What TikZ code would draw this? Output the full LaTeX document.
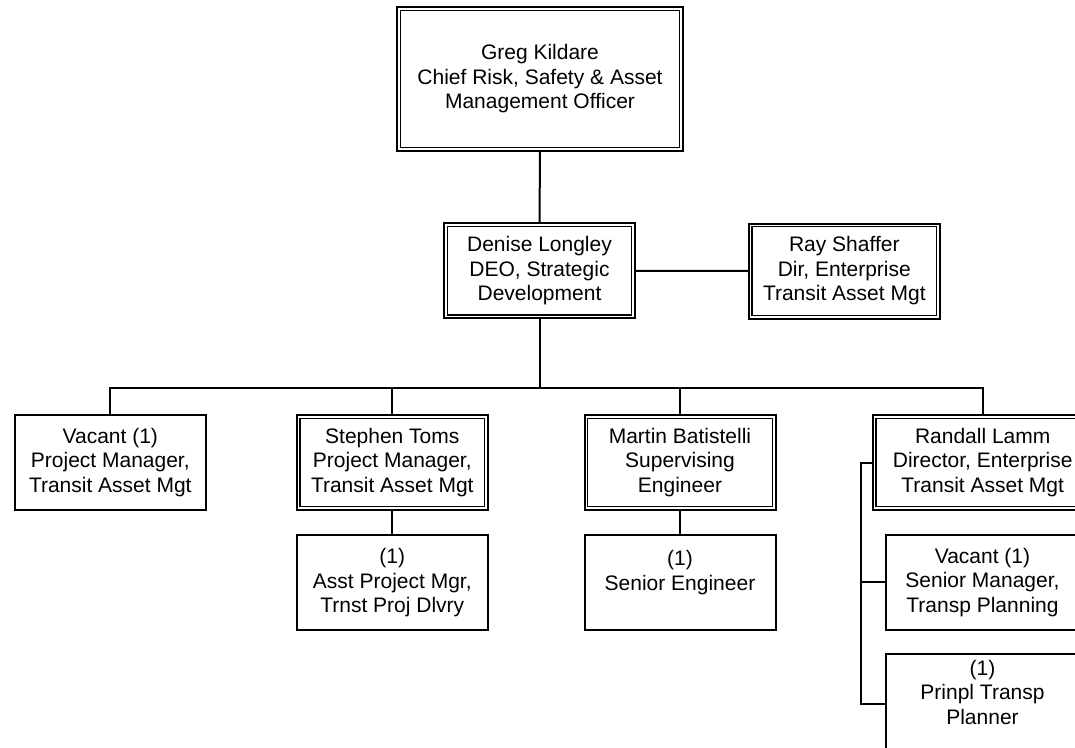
\documentclass[tikz,border=0pt]{standalone}
\usepackage{fontspec}
\setmainfont{Liberation Sans}
\begin{document}
\begin{tikzpicture}[x=1bp,y=-1bp,
  box/.style={draw, line width=2bp, minimum width=191bp, minimum height=95bp,
    inner sep=0pt, align=center, font=\fontsize{21bp}{24.5bp}\selectfont},
  conn/.style={line width=2bp},
  innerline/.style={line width=1.3bp}]
\useasboundingbox (0,0) rectangle (1075,748);
\clip (0,0) rectangle (1075,748);

% nodes
\node[box, minimum width=286bp, minimum height=143.7bp] (greg) at (540,78.8)
  {Greg Kildare\\Chief Risk, Safety \& Asset\\Management Officer};
\node[box] (denise) at (539.5,270.8) {Denise Longley\\DEO, Strategic\\Development};
\node[box] (ray) at (844.3,271) {Ray Shaffer\\Dir, Enterprise\\Transit Asset Mgt};

\node[box] (vac1) at (110.3,462.5) {Vacant (1)\\Project Manager,\\Transit Asset Mgt};
\node[box] (stephen) at (392.3,462.5) {Stephen Toms\\Project Manager,\\Transit Asset Mgt};
\node[box] (martin) at (680,462.5) {Martin Batistelli\\Supervising\\Engineer};
\node[box, minimum width=220bp] (randall) at (982.7,462.5) {Randall Lamm\\Director, Enterprise\\Transit Asset Mgt};

\node[box] (asst) at (392.3,582.7) {(1)\\Asst Project Mgr,\\Trnst Proj Dlvry};
\node[box] (senior) at (680,582.7) {(1)\\Senior Engineer\\\mbox{}};
\node[box, minimum width=192.4bp] (vac2) at (982.5,582.3) {Vacant (1)\\Senior Manager,\\Transp Planning};
\node[box, minimum width=192.4bp, minimum height=100bp] (prinpl) at (982.5,704.3) {(1)\\Prinpl Transp\\Planner\\\mbox{}};

% inner lines of double boxes
\foreach \n in {greg,denise,ray,stephen,martin,randall}
  \draw[innerline] ([xshift=4.3bp,yshift=-4.3bp]\n.north west) rectangle ([xshift=-4.3bp,yshift=4.3bp]\n.south east);

% connectors
\coordinate (bus) at (540,388);
\coordinate (rt) at (860.7,462.5);
\draw[conn] (greg.south) -- (denise.north);
\draw[conn] (denise.east) -- (ray.west);
\draw[conn] (denise.south) -- (denise.south |- bus);
\draw[conn] (vac1.north) -- (vac1.north |- bus) -- (randall.north |- bus) -- (randall.north);
\draw[conn] (stephen.north) -- (stephen.north |- bus);
\draw[conn] (martin.north) -- (martin.north |- bus);
\draw[conn] (stephen.south) -- (asst.north);
\draw[conn] (martin.south) -- (senior.north);
\draw[conn] (randall.west) -- (rt) |- (prinpl.west);
\draw[conn] (vac2.west) -- (vac2.west -| rt);
\end{tikzpicture}
\end{document}
